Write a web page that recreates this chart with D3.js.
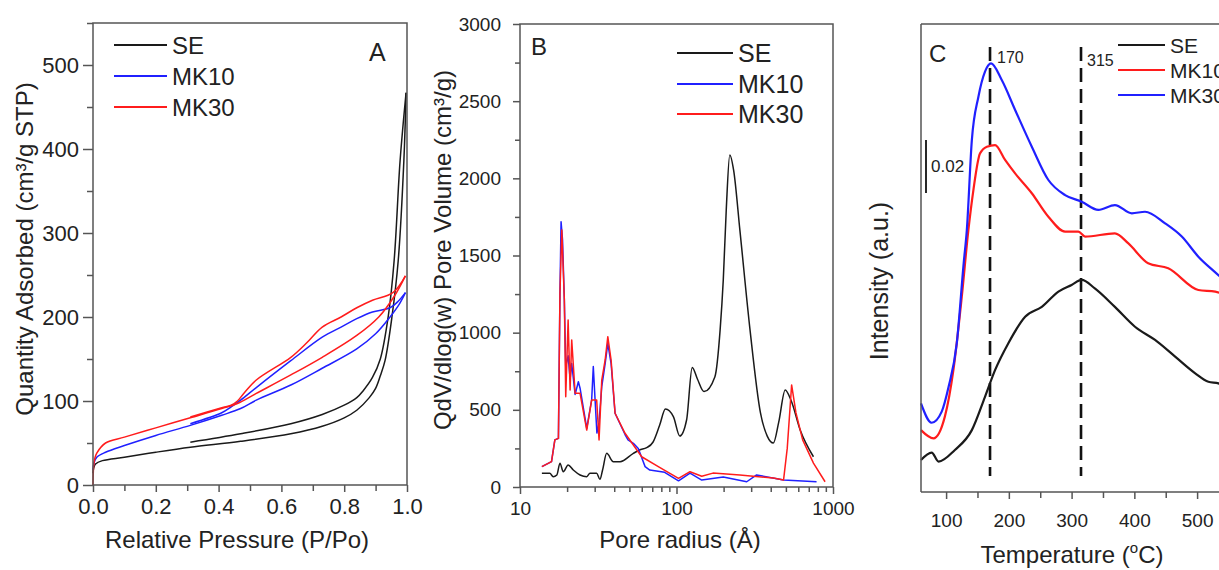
<!DOCTYPE html>
<html>
<head>
<meta charset="utf-8">
<script src="https://cdn.jsdelivr.net/npm/d3@7"></script>
<style>
  body { margin: 0; background: #fff; }
  svg { display: block; font-family: "Liberation Sans", Arial, sans-serif; }
  text { fill: #222; }
</style>
</head>
<body>
<svg id="chart" width="1219" height="570"></svg>
<script>
/********************************************************
 ********************* Data *****************************
 ********************************************************/
// panel A : N2 isotherms [P/Po, cm3/g STP]
var seAds = [[0.0,14],[0.002,20],[0.008,25],[0.03,29],[0.1,33],[0.2,39],[0.31,45],[0.47,52],[0.63,61],[0.73,70],[0.8,80],[0.84,89],[0.88,104],[0.9,115],[0.915,130],[0.93,148],[0.952,200],[0.972,267],[0.99,386],[0.997,467]];
var seDes = [[0.997,467],[0.978,386],[0.959,267],[0.94,200],[0.915,150],[0.89,128],[0.86,112],[0.84,104],[0.8,95],[0.73,84],[0.63,73],[0.47,61],[0.31,51]];
var mk10Ads = [[0.0,18],[0.003,26],[0.012,33],[0.04,39],[0.1,47],[0.2,59],[0.31,71],[0.41,83],[0.47,91],[0.52,101],[0.63,119],[0.73,139],[0.84,162],[0.9,180],[0.946,200],[0.975,215],[0.995,229]];
var mk10Des = [[0.995,229],[0.97,218],[0.946,211],[0.89,206],[0.84,198],[0.79,188],[0.73,176],[0.63,148],[0.52,116],[0.47,101],[0.44,93],[0.41,86],[0.31,73]];
var mk30Ads = [[0.0,0],[0.002,22],[0.006,32],[0.012,38],[0.04,50],[0.1,57],[0.2,68],[0.31,80],[0.41,91],[0.46,97],[0.52,109],[0.63,131],[0.73,152],[0.84,178],[0.91,200],[0.96,225],[0.995,249]];
var mk30Des = [[0.995,249],[0.955,229],[0.89,220],[0.84,211],[0.79,200],[0.73,188],[0.68,169],[0.63,152],[0.52,125],[0.48,109],[0.46,100],[0.44,95],[0.41,92],[0.31,81]];

// panel B : pore size distribution [radius A, cm3/g]
var seBJH = [[13.8,89],[15.5,89],[16.3,67],[17.2,78],[18.0,154],[18.9,99],[20.3,143],[21.9,110],[24.2,78],[26.7,67],[28,89],[30.9,89],[32.4,50],[33.7,110],[35.8,218],[39.5,164],[43.6,164],[53,218],[58,240],[64.5,255],[70.7,290],[78,400],[85,505],[95.5,456],[105,330],[116,434],[126,775],[136,700],[150,618],[176,715],[190,1018],[199,1341],[208,1800],[219,2152],[232,2050],[254,1666],[295,1018],[344,480],[380,330],[416,285],[450,420],[495,629],[540,560],[617,369],[750,196]];
var mk10BJH = [[13.8,132],[15.9,164],[16.7,305],[17.6,315],[18.0,1255],[18.3,1719],[18.7,1600],[19.2,1212],[19.6,780],[20.3,850],[20.9,700],[21.4,800],[22.5,600],[23.6,682],[24.2,640],[26.7,380],[28.7,564],[29.4,780],[30.2,560],[31,350],[32,420],[33.3,650],[35,800],[36.4,930],[38.2,800],[40.5,478],[46.9,340],[49,305],[53,283],[57,250],[63,132],[67.5,110],[84,95],[103,40],[122,90],[145,45],[199,65],[281,34],[325,78],[483,45],[785,34]];
var mk30BJH = [[13.8,132],[15.9,164],[16.7,305],[17.6,315],[18.0,1255],[18.5,1666],[19.2,1212],[19.6,585],[20.3,1082],[20.9,629],[21.4,953],[22.5,607],[24.2,607],[26.7,369],[28.7,564],[30.9,564],[32,305],[33.3,693],[35,823],[36.4,974],[38.2,823],[40.5,478],[46.9,348],[59.9,196],[76.5,132],[103,56],[122,99],[145,70],[171,90],[254,78],[416,58],[483,45],[510,250],[544,661],[580,480],[640,305],[750,155],[890,34]];

// panel C : NH3-TPD [deg C, a.u.]
var seTPD = [[60,0.0121],[77,0.0149],[88,0.0115],[114,0.0159],[141,0.0234],[162,0.036],[178,0.0461],[199,0.0562],[226,0.0663],[252.5,0.07],[279,0.0758],[300,0.0783],[316,0.0802],[337,0.077],[369,0.07],[401,0.0625],[433,0.0575],[465,0.0512],[497,0.0449],[518,0.0417],[534,0.0411],[560,0.038]];
var mk10TPD = [[60,0.0234],[80,0.0203],[98,0.0285],[111.6,0.0461],[125,0.0739],[135.5,0.099],[143.5,0.1142],[154,0.128],[165,0.1306],[178,0.1312],[194,0.1256],[210,0.1205],[236.6,0.113],[263,0.1041],[289.6,0.0985],[310.8,0.0985],[321.5,0.0966],[369,0.0978],[390.5,0.094],[422,0.0865],[454,0.0846],[502,0.0764],[529,0.0758],[560,0.072]];
var mk30TPD = [[60,0.0335],[77,0.0262],[93,0.0304],[104,0.0398],[117,0.0562],[128,0.0865],[133,0.099],[141,0.133],[151.5,0.1495],[162,0.159],[171.7,0.1621],[188.7,0.1558],[210,0.1445],[236.6,0.1306],[263,0.118],[289.6,0.1123],[316,0.1098],[342.7,0.1067],[369,0.1085],[396,0.1054],[417,0.106],[449,0.1016],[475.6,0.0966],[502,0.089],[534,0.082],[560,0.076]];

var peakTemps = [170, 315];
var legendAB = ["SE", "MK10", "MK30"];
var legendC = ["SE", "MK10", "MK30"];
var ticksA_x = [0, 0.2, 0.4, 0.6, 0.8, 1.0];
var ticksA_y = [0, 100, 200, 300, 400, 500];
var ticksB_x = [10, 100, 1000];
var ticksB_y = [0, 500, 1000, 1500, 2000, 2500, 3000];
var ticksC_x = [100, 200, 300, 400, 500];

var BLACK = "#1a1a1a", BLUE = "#2020ff", RED = "#ff1c1c", FRAME = "#555";

var svg = d3.select("#chart");

/********************************************************
 ********************* helpers **************************
 ********************************************************/
function styleAxis(g, fs) {
  g.select(".domain").remove();
  g.selectAll(".tick line").attr("stroke", FRAME).attr("stroke-width", 1.5);
  g.selectAll(".tick text").attr("font-size", fs).attr("fill", "#222")
    .attr("font-family", "Liberation Sans, Arial, sans-serif");
}

function drawLine(data, x, y, color, w, curve) {
  svg.append("path")
    .datum(data)
    .attr("fill", "none")
    .attr("stroke", color)
    .attr("stroke-width", w)
    .attr("stroke-linejoin", "round")
    .attr("d", d3.line()
      .x(function(d) { return x(d[0]); })
      .y(function(d) { return y(d[1]); })
      .curve(curve || d3.curveMonotoneX));
}

function legend(names, colors, x1, x2, ys, fs) {
  names.forEach(function(n, i) {
    svg.append("line").attr("x1", x1).attr("x2", x2).attr("y1", ys[i]).attr("y2", ys[i])
      .attr("stroke", colors[i]).attr("stroke-width", 1.8);
    svg.append("text").attr("x", x2 + 5).attr("y", ys[i]).attr("dy", "0.36em")
      .attr("font-size", fs).text(n);
  });
}

/********************************************************
 ********************* Panel A **************************
 ********************************************************/
var xA = d3.scaleLinear().domain([0, 1]).range([93, 407]);
var yA = d3.scaleLinear().domain([0, 550]).range([485, 23]);

svg.append("g").attr("transform", "translate(0,485)")
  .call(d3.axisBottom(xA).tickValues(d3.range(0.1, 1, 0.2)).tickSize(6).tickFormat(""))
  .call(styleAxis, 22);
svg.append("g").attr("transform", "translate(0,485)")
  .call(d3.axisBottom(xA).tickValues(ticksA_x).tickSize(7).tickPadding(6).tickFormat(d3.format(".1f")))
  .call(styleAxis, 22);
svg.append("g").attr("transform", "translate(93,0)")
  .call(d3.axisLeft(yA).tickValues([50, 150, 250, 350, 450, 550]).tickSize(6).tickFormat(""))
  .call(styleAxis, 22);
svg.append("g").attr("transform", "translate(93,0)")
  .call(d3.axisLeft(yA).tickValues(ticksA_y).tickSize(10).tickPadding(4))
  .call(styleAxis, 22);

var smoothA = d3.curveCatmullRom.alpha(0.5);
drawLine(seAds, xA, yA, BLACK, 1.5, smoothA);
drawLine(seDes, xA, yA, BLACK, 1.5, smoothA);
drawLine(mk10Ads, xA, yA, BLUE, 1.5, smoothA);
drawLine(mk10Des, xA, yA, BLUE, 1.5, smoothA);
drawLine(mk30Ads, xA, yA, RED, 1.5, smoothA);
drawLine(mk30Des, xA, yA, RED, 1.5, smoothA);

svg.append("rect").attr("x", 93).attr("y", 23).attr("width", 314).attr("height", 462)
  .attr("fill", "none").attr("stroke", FRAME).attr("stroke-width", 1.5);

legend(legendAB, [BLACK, BLUE, RED], 114, 167, [45, 76, 107], 24);
svg.append("text").attr("x", 369).attr("y", 61).attr("font-size", 25).text("A");

svg.append("text").attr("x", 237).attr("y", 548).attr("text-anchor", "middle")
  .attr("font-size", 24).text("Relative Pressure (P/Po)");
svg.append("text").attr("transform", "translate(33,249) rotate(-90)").attr("text-anchor", "middle")
  .attr("font-size", 24).text("Quantity Adsorbed (cm³/g STP)");

/********************************************************
 ********************* Panel B **************************
 ********************************************************/
var xB = d3.scaleLog().domain([10, 1000]).range([520, 833]);
var yB = d3.scaleLinear().domain([0, 3000]).range([487, 24]);

var minorB = [];
[10, 100].forEach(function(d) { for (var k = 2; k < 10; k++) minorB.push(d * k); });
svg.append("g").attr("transform", "translate(0,487)")
  .call(d3.axisBottom(xB).tickValues(minorB).tickSize(5).tickFormat(""))
  .call(styleAxis, 19);
svg.append("g").attr("transform", "translate(0,487)")
  .call(d3.axisBottom(xB).tickValues(ticksB_x).tickSize(7).tickPadding(8).tickFormat(d3.format("d")))
  .call(styleAxis, 19);
svg.append("g").attr("transform", "translate(520,0)")
  .call(d3.axisLeft(yB).tickValues(d3.range(250, 3000, 500)).tickSize(5).tickFormat(""))
  .call(styleAxis, 19);
svg.append("g").attr("transform", "translate(520,0)")
  .call(d3.axisLeft(yB).tickValues(ticksB_y).tickSize(7).tickPadding(12).tickFormat(d3.format("d")))
  .call(styleAxis, 19);

drawLine(seBJH, xB, yB, BLACK, 1.5);
drawLine(mk10BJH, xB, yB, BLUE, 1.5, d3.curveLinear);
drawLine(mk30BJH, xB, yB, RED, 1.5, d3.curveLinear);

svg.append("rect").attr("x", 520).attr("y", 24).attr("width", 313).attr("height", 463)
  .attr("fill", "none").attr("stroke", FRAME).attr("stroke-width", 1.5);

legend(legendAB, [BLACK, BLUE, RED], 677, 733, [53, 84, 114], 25);
svg.append("text").attr("x", 531).attr("y", 55).attr("font-size", 24).text("B");

svg.append("text").attr("x", 680).attr("y", 548).attr("text-anchor", "middle")
  .attr("font-size", 24).text("Pore radius (Å)");
svg.append("text").attr("transform", "translate(451,250) rotate(-90)").attr("text-anchor", "middle")
  .attr("font-size", 24).text("QdV/dlog(w) Pore Volume (cm³/g)");

/********************************************************
 ********************* Panel C **************************
 ********************************************************/
var xC = d3.scaleLinear().domain([60, 600]).range([921, 921 + 540 * 0.6275]);
var yC = d3.scaleLinear().domain([0, 0.177]).range([492, 24]);

svg.append("g").attr("transform", "translate(0,492)")
  .call(d3.axisBottom(xC).tickValues([150, 250, 350, 450, 550]).tickSize(6).tickFormat(""))
  .call(styleAxis, 19);
svg.append("g").attr("transform", "translate(0,492)")
  .call(d3.axisBottom(xC).tickValues(ticksC_x).tickSize(7).tickPadding(15))
  .call(styleAxis, 19);

peakTemps.forEach(function(t) {
  svg.append("line").attr("x1", xC(t)).attr("x2", xC(t)).attr("y1", 47).attr("y2", 476)
    .attr("stroke", "#111").attr("stroke-width", 2.6).attr("stroke-dasharray", "14,7");
});

drawLine(seTPD, xC, yC, BLACK, 2.2);
drawLine(mk10TPD, xC, yC, RED, 2.2);
drawLine(mk30TPD, xC, yC, BLUE, 2.2);

svg.append("line").attr("x1", 921).attr("x2", 921).attr("y1", 24).attr("y2", 492)
  .attr("stroke", FRAME).attr("stroke-width", 1.5);
svg.append("line").attr("x1", 921).attr("x2", 1219).attr("y1", 492).attr("y2", 492)
  .attr("stroke", FRAME).attr("stroke-width", 1.5);
svg.append("line").attr("x1", 921).attr("x2", 1219).attr("y1", 24).attr("y2", 24)
  .attr("stroke", FRAME).attr("stroke-width", 1.5);

// scale bar 0.02
svg.append("line").attr("x1", 926).attr("x2", 926).attr("y1", yC(0.1331)).attr("y2", yC(0.1131))
  .attr("stroke", "#111").attr("stroke-width", 1.8);
svg.append("text").attr("x", 931).attr("y", 172).attr("font-size", 17).text("0.02");

svg.append("text").attr("x", xC(170) + 7).attr("y", 63).attr("font-size", 16).text("170");
svg.append("text").attr("x", xC(315) + 6).attr("y", 66).attr("font-size", 16).text("315");

legend(legendC, [BLACK, RED, BLUE], 1118, 1165, [45, 70, 95], 21);
svg.append("text").attr("x", 929).attr("y", 62).attr("font-size", 24).text("C");

var tt = svg.append("text").attr("x", 1072).attr("y", 563).attr("text-anchor", "middle")
  .attr("font-size", 24);
tt.append("tspan").text("Temperature (");
tt.append("tspan").attr("font-size", 15).attr("dy", -10).text("o");
tt.append("tspan").attr("dy", 10).text("C)");
svg.append("text").attr("transform", "translate(888,281) rotate(-90)").attr("text-anchor", "middle")
  .attr("font-size", 25).text("Intensity (a.u.)");
</script>
</body>
</html>
